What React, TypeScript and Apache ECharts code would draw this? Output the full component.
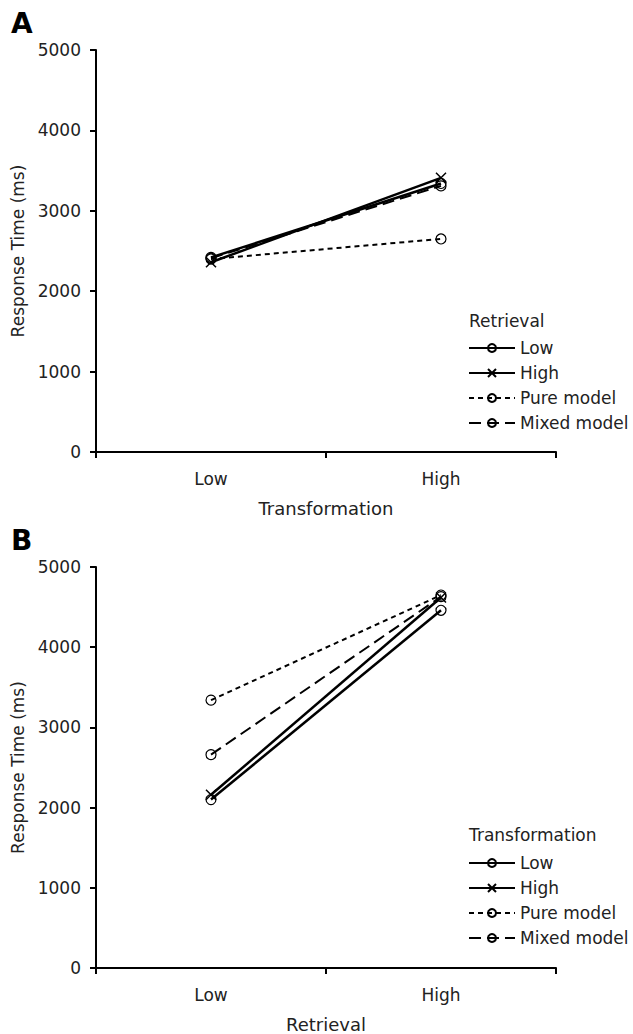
import React, { useEffect, useRef } from "react";
import * as echarts from "echarts";

const xCategories = ["Low", "High"];
const seriesNames = ["Low", "High", "Pure model", "Mixed model"];

// Panel A: x = Transformation, lines = Retrieval
const aLow = [2420, 3340];
const aHigh = [2360, 3410];
const aPure = [2400, 2650];
const aMixed = [2410, 3310];

// Panel B: x = Retrieval, lines = Transformation
const bLow = [2100, 4460];
const bHigh = [2160, 4620];
const bPure = [3340, 4650];
const bMixed = [2660, 4630];

const FONT = "DejaVu Sans";
const TXT = "#222";

const styles: Record<string, any> = {
  "Low": { symbol: "circle", lineType: "solid", width: 2.5 },
  "High": { symbol: "path://M0,0L10,10M10,0L0,10", lineType: "solid", width: 2.5 },
  "Pure model": { symbol: "circle", lineType: [5, 4], width: 2 },
  "Mixed model": { symbol: "circle", lineType: [12, 6], width: 2 },
};

function makeSeries(name: string, data: number[], idx: number) {
  const s = styles[name];
  const isX = name === "High";
  return {
    type: "line",
    name,
    xAxisIndex: idx,
    yAxisIndex: idx,
    data,
    symbol: s.symbol,
    symbolSize: 10,
    lineStyle: { color: "#000", width: s.width, type: s.lineType },
    itemStyle: isX
      ? { color: "#000", borderColor: "#000", borderWidth: 1.5 }
      : { color: "rgba(255,255,255,0)", borderColor: "#000", borderWidth: 1.2 },
    z: 3,
  };
}

function yAxis(idx: number) {
  return {
    type: "value",
    gridIndex: idx,
    min: 0,
    max: 5000,
    interval: 1000,
    name: "Response Time (ms)",
    nameLocation: "middle",
    nameGap: 70,
    nameTextStyle: { fontFamily: FONT, fontSize: 17, color: TXT },
    axisLine: { show: true, lineStyle: { color: "#000", width: 2 } },
    axisTick: { show: true, length: 6, lineStyle: { color: "#000", width: 2 } },
    axisLabel: {
      margin: 15,
      fontFamily: FONT,
      fontSize: 17,
      color: TXT,
      formatter: (v: number) => String(v),
    },
    splitLine: { show: false },
  };
}

function xAxis(idx: number, name: string) {
  return {
    type: "category",
    gridIndex: idx,
    data: xCategories,
    boundaryGap: true,
    name,
    nameLocation: "middle",
    nameGap: 47,
    nameTextStyle: { fontFamily: FONT, fontSize: 18, color: TXT },
    axisLine: { show: true, lineStyle: { color: "#000", width: 2 } },
    axisTick: { show: true, length: 6, alignWithLabel: false, lineStyle: { color: "#000", width: 2 } },
    axisLabel: { margin: 18, fontFamily: FONT, fontSize: 17, color: TXT },
    splitLine: { show: false },
  };
}

function legend(top: number) {
  return {
    orient: "vertical",
    left: 468,
    top,
    padding: 0,
    itemWidth: 46,
    itemHeight: 10,
    itemGap: 8,
    selectedMode: false,
    data: seriesNames,
    textStyle: { fontFamily: FONT, fontSize: 17, color: TXT },
  };
}

export default function App() {
  const ref = useRef<HTMLDivElement>(null);
  useEffect(() => {
    document.body.style.margin = "0";
    const chart = echarts.init(ref.current!, null, { renderer: "svg" });
    chart.setOption({
      animation: false,
      backgroundColor: "#fff",
      grid: [
        { left: 96, top: 50, width: 460, height: 402 },
        { left: 96, top: 567, width: 460, height: 402 },
      ],
      xAxis: [xAxis(0, "Transformation"), xAxis(1, "Retrieval")],
      yAxis: [yAxis(0), yAxis(1)],
      legend: [legend(339.5), legend(854.5)],
      graphic: [
        { type: "text", left: 11, top: 9, style: { text: "A", font: `bold 28px ${FONT}`, fill: "#000" } },
        { type: "text", left: 11, top: 526, style: { text: "B", font: `bold 28px ${FONT}`, fill: "#000" } },
        { type: "text", left: 469, top: 312, style: { text: "Retrieval", font: `17px ${FONT}`, fill: TXT } },
        { type: "text", left: 469, top: 826, style: { text: "Transformation", font: `17px ${FONT}`, fill: TXT } },
      ],
      series: [
        makeSeries("Low", aLow, 0),
        makeSeries("High", aHigh, 0),
        makeSeries("Pure model", aPure, 0),
        makeSeries("Mixed model", aMixed, 0),
        makeSeries("Low", bLow, 1),
        makeSeries("High", bHigh, 1),
        makeSeries("Pure model", bPure, 1),
        makeSeries("Mixed model", bMixed, 1),
      ],
    });
    return () => chart.dispose();
  }, []);
  return <div ref={ref} style={{ width: 633, height: 1034 }} />;
}
